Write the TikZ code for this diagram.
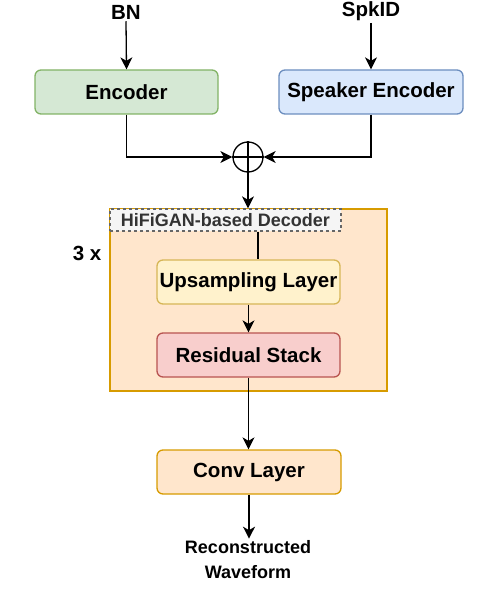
\documentclass[tikz,border=0pt]{standalone}
\usepackage{fontspec}
\setmainfont{Liberation Sans}
\usepackage{xcolor}
\usetikzlibrary{arrows,arrows.meta,positioning,calc}

\definecolor{encfill}{HTML}{D5E8D4}
\definecolor{encline}{HTML}{82B366}
\definecolor{spkfill}{HTML}{DAE8FC}
\definecolor{spkline}{HTML}{6C8EBF}
\definecolor{orgfill}{HTML}{FFE6CC}
\definecolor{orgline}{HTML}{D79B00}
\definecolor{upfill}{HTML}{FFF2CC}
\definecolor{upline}{HTML}{D6B656}
\definecolor{resfill}{HTML}{F8CECC}
\definecolor{resline}{HTML}{B85450}
\definecolor{lblfill}{HTML}{F5F5F5}
\definecolor{lblline}{HTML}{666666}
\definecolor{lbltext}{HTML}{333333}

\tikzset{
  blockbox/.style={draw,line width=1.3pt,rounded corners=6pt,minimum width=183pt,minimum height=44pt,
    inner sep=0pt,font=\fontsize{20.5}{24}\selectfont\bfseries},
  plaintext/.style={font=\fontsize{20.5}{24}\selectfont\bfseries,inner sep=2pt},
  arr/.style={line width=1.3pt,-{Stealth[length=12pt,width=12pt,inset=3.5pt]}},
  wire/.style={line width=1.3pt}
}

\begin{document}
\begin{tikzpicture}[x=1pt,y=-1pt]
\useasboundingbox (0,0) rectangle (484,612);

% inputs
\node[plaintext] (bn) at (126,12) {BN};
\node[plaintext] (spkid) at (371,11) {SpkID};

\node[blockbox,fill=encfill,draw=encline] (enc) at (126.5,92) {Encoder};
\node[blockbox,fill=spkfill,draw=spkline,minimum width=184pt] (spkenc) at (371,92) {Speaker Encoder};

\node[draw,circle,line width=1.3pt,minimum size=30pt,inner sep=0pt] (sum) at (248,157) {};
\draw[wire] (sum.north) -- (sum.south);
\draw[wire] (sum.west) -- (sum.east);

% decoder
\node[draw=orgline,fill=orgfill,line width=1.3pt,minimum width=277pt,minimum height=182pt] (dec) at (248.5,300) {};
\node[draw=lblline,fill=lblfill,dashed,line width=1.3pt,minimum width=231pt,minimum height=22pt,inner sep=0pt,
  text=lbltext,font=\fontsize{18}{20}\selectfont\bfseries] (declbl) at (225.5,220) {HiFiGAN-based Decoder};
\node[plaintext] (rep) at (87,253) {3 x};

\node[blockbox,fill=upfill,draw=upline] (up) at (248.5,282) {Upsampling Layer};
\node[blockbox,fill=resfill,draw=resline] (res) at (248.5,355) {Residual Stack};

\node[blockbox,fill=orgfill,draw=orgline,minimum width=184pt] (conv) at (249,472) {Conv Layer};
\node[font=\fontsize{18}{25}\selectfont\bfseries,align=center,inner sep=2pt] (out) at (248,560) {Reconstructed\\Waveform};

\coordinate (lnk) at (258,0);

\draw[arr] (bn.south) -- (enc.north);
\draw[arr] (spkid.south) -- (spkenc.north);
\draw[arr] (enc.south) |- (sum.west);
\draw[arr] (spkenc.south) |- (sum.east);
\draw[arr] (sum.south) -- (sum.south |- dec.north);
\draw[wire] (declbl.south -| lnk) -- (up.north -| lnk);
\draw[arr] (up.south) -- (res.north);
\draw[arr] (res.south) -- (res.south |- conv.north);
\draw[arr] (conv.south) -- (conv.south |- out.north);
\end{tikzpicture}
\end{document}
